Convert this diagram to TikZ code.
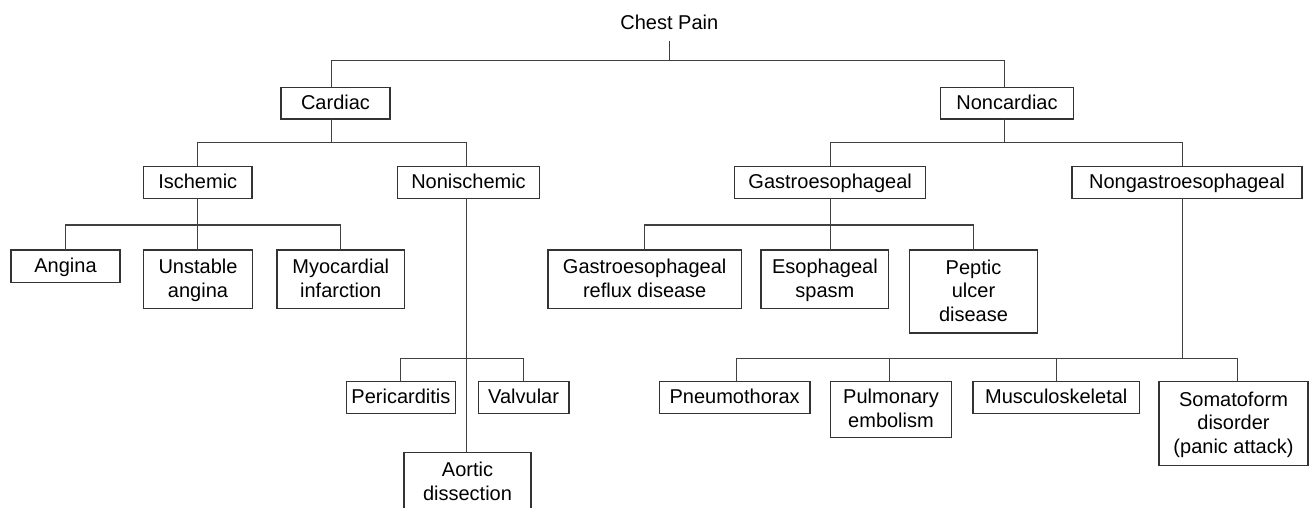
\documentclass[tikz,border=0pt]{standalone}
\usepackage{fontspec}
\setmainfont{Liberation Sans}
\newcommand\st{\rule[-5.5pt]{0pt}{23.5pt}}
\tikzset{
  box/.style={draw=black!80, line width=1.2pt, inner sep=0pt, outer sep=0pt, align=center,
              font=\fontsize{20}{23.5}\selectfont},
  conn/.style={draw=black!75, line width=1.05pt}
}
\begin{document}
\begin{tikzpicture}[x=1pt,y=-1pt]
\useasboundingbox (0,0) rectangle (1310,508);
\clip (0,0) rectangle (1310,508);
% title
\node[inner sep=0pt, outer sep=0pt, text depth=10.7pt, anchor=south,
      font=\fontsize{20}{23.5}\selectfont] (cp) at (669.3,40.7) {Chest Pain};
% level 1
\node[box, minimum width=109, minimum height=31.7] (card) at (335.5,103.2) {\st Cardiac};
\node[box, minimum width=133, minimum height=31.7] (noncard) at (1007,103.2) {\st Noncardiac};
% level 2
\node[box, minimum width=108.5, minimum height=32] (isch) at (197.75,182.3) {\st Ischemic};
\node[box, minimum width=142.3, minimum height=32] (nonisch) at (468.5,182.3) {\st Nonischemic};
\node[box, minimum width=191, minimum height=32] (gastro) at (830.2,182.3) {\st Gastroesophageal};
\node[box, minimum width=230, minimum height=32] (nongastro) at (1187,182.3) {\st Nongastroesophageal};
% level 3
\node[box, minimum width=109, minimum height=32.3] (ang) at (65.5,266.2) {\st Angina};
\node[box, minimum width=109, minimum height=58.7] (unst) at (198,279.3) {\st Unstable\\\st angina};
\node[box, minimum width=127.5, minimum height=58.7] (myo) at (340.75,279.3) {\st Myocardial\\\st infarction};
\node[box, minimum width=193.3, minimum height=58.7] (gerd) at (644.7,279.3) {\st Gastroesophageal\\\st reflux disease};
\node[box, minimum width=127.7, minimum height=58.7] (esoph) at (824.9,279.3) {\st Esophageal\\\st spasm};
\node[box, minimum width=127.6, minimum height=83] (peptic) at (973.5,291.5) {\st Peptic\\\st ulcer\\\st disease};
% level 4
\node[box, minimum width=109, minimum height=32.4] (peri) at (400.9,397.5) {\st Pericarditis};
\node[box, minimum width=90.8, minimum height=32.4] (valv) at (523.6,397.5) {\st Valvular};
\node[box, minimum width=127, minimum height=83] (aortic) at (467.5,494) {\st Aortic\\\st dissection\\\st};
\node[box, minimum width=150.7, minimum height=32.4] (pneumo) at (734.65,397.5) {\st Pneumothorax};
\node[box, minimum width=120.8, minimum height=56] (pulm) at (891,409.3) {\st Pulmonary\\\st embolism};
\node[box, minimum width=166.7, minimum height=32.4] (musc) at (1056.25,397.5) {\st Musculoskeletal};
\node[box, minimum width=149, minimum height=84.4] (somato) at (1233.5,423.5) {\st Somatoform\\\st disorder\\\st (panic attack)};
% connectors
\coordinate (b0) at (669.3,60.7);
\draw[conn] (cp.south) -- (b0);
\draw[conn] ([xshift=-3.8pt]card.north) |- (b0) -| ([xshift=-2.1pt]noncard.north);
% cardiac
\coordinate (b1) at (331.7,142.3);
\draw[conn] ([xshift=-3.8pt]card.south) -- (b1);
\draw[conn] (isch.north) |- (b1) -| ([xshift=-1.7pt]nonisch.north);
% noncardiac
\coordinate (b2) at (1004.9,142.3);
\draw[conn] ([xshift=-2.1pt]noncard.south) -- (b2);
\draw[conn] (gastro.north) |- (b2) -| ([xshift=-4.5pt]nongastro.north);
% ischemic
\coordinate (b3) at (197.75,225);
\draw[conn] (isch.south) -- (isch.south |- unst.north);
\draw[conn] (ang.north) |- (b3) -| (myo.north);
% gastro
\coordinate (b4) at (830.2,225);
\draw[conn] (gastro.south) -- (gastro.south |- esoph.north);
\draw[conn] (gerd.north) |- (b4) -| (peptic.north);
% nonischemic
\coordinate (b5) at (466.8,358.3);
\draw[conn] ([xshift=-1.7pt]nonisch.south) -- ([xshift=-1.7pt]nonisch.south |- aortic.north);
\draw[conn] (peri.north) |- (b5) -| (valv.north);
% nongastro
\coordinate (b6) at (1182.5,358.3);
\draw[conn] ([xshift=-4.5pt]nongastro.south) -- (b6);
\draw[conn] ([xshift=1.6pt]pneumo.north) |- (b6) -| ([xshift=4.1pt]somato.north);
\draw[conn] ([xshift=-1.5pt]pulm.north) -- ([xshift=-1.5pt]pulm.north |- b6);
\draw[conn] (musc.north) -- (musc.north |- b6);
\end{tikzpicture}
\end{document}
